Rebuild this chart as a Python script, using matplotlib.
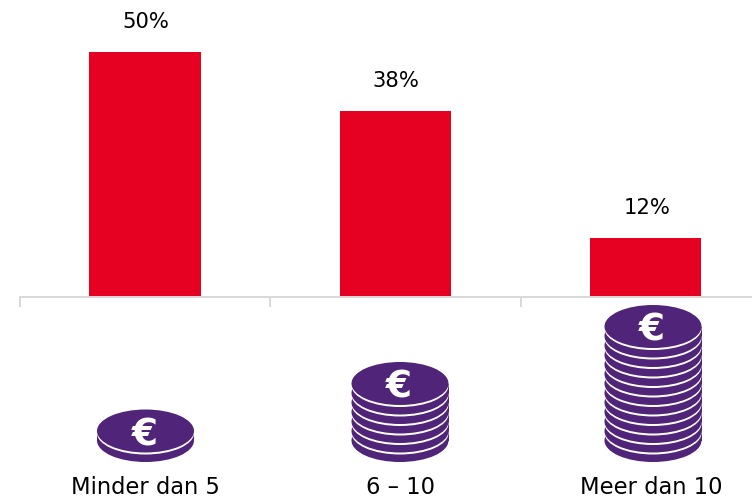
import matplotlib
matplotlib.use('Agg')
import matplotlib.pyplot as plt
from matplotlib.patches import Ellipse, Rectangle

# Data
categories = ['Minder dan 5', '6 – 10', 'Meer dan 10']
percentages = [50, 38, 12]
coin_layers = [1, 6, 12]  # white rims visible in each stack

RED = '#e60021'
PURPLE = '#4f2479'
GREY = '#d9d9d9'

W, H = 752, 499
fig = plt.figure(figsize=(W / 100, H / 100), dpi=100)

# Bars: axes bottom sits on the baseline at y=297 px
ax = fig.add_axes([20 / W, (H - 297) / H, (W - 20) / W, 297 / H])
ax.patch.set_alpha(0)
positions = [i + 0.5 for i in range(len(categories))]
bars = ax.bar(positions, percentages, width=0.446, color=RED)
ax.set_xlim(0, (W - 20) / 250.25)
ax.set_ylim(0, 297 / 4.9)
for rect, val in zip(bars, percentages):
    ax.annotate(f'{val}%', (rect.get_x() + rect.get_width() / 2, val),
                xytext=(1, 20), textcoords='offset pixels', ha='center', va='bottom',
                fontsize=15.2, color='black', clip_on=False)

for side in ['top', 'left', 'right']:
    ax.spines[side].set_visible(False)
ax.spines['bottom'].set_color(GREY)
ax.spines['bottom'].set_linewidth(1.4)
ax.set_yticks([])
ax.set_xticks(range(len(categories)))
ax.set_xticklabels([])
ax.tick_params(axis='x', length=7, width=1.4, color=GREY)

# Coin stacks and labels live in an overlay in pixel units
ov = fig.add_axes([0, 0, 1, 1])
ov.set_xlim(0, W)
ov.set_ylim(H, 0)
ov.axis('off')
ov.patch.set_alpha(0)

stack_x = [145.5, 400, 653]
label_x = [145, 400, 651]
base_y = 440.5
step = 9.5
coin_w, coin_h = 97, 43

for cx, lx, layers, name in zip(stack_x, label_x, coin_layers, categories):
    ov.add_patch(Ellipse((cx, base_y), coin_w, coin_h, color=PURPLE, lw=0))
    for n in range(1, layers + 1):
        cy = base_y - n * step
        ov.add_patch(Rectangle((cx - coin_w / 2, cy), coin_w, step, color=PURPLE, lw=0))
        ov.add_patch(Ellipse((cx, cy + 2), coin_w, coin_h, color='white', lw=0))
        ov.add_patch(Ellipse((cx, cy), coin_w, coin_h, color=PURPLE, lw=0))
    top_y = base_y - layers * step
    ov.text(cx - 1, top_y, '€', color='white', fontsize=27, fontweight='bold',
            family='DejaVu Sans', ha='center', va='center_baseline')
    ov.text(lx, 488, name, color='black', fontsize=16.3, ha='center', va='center')

fig.savefig('out.png', dpi=100)
